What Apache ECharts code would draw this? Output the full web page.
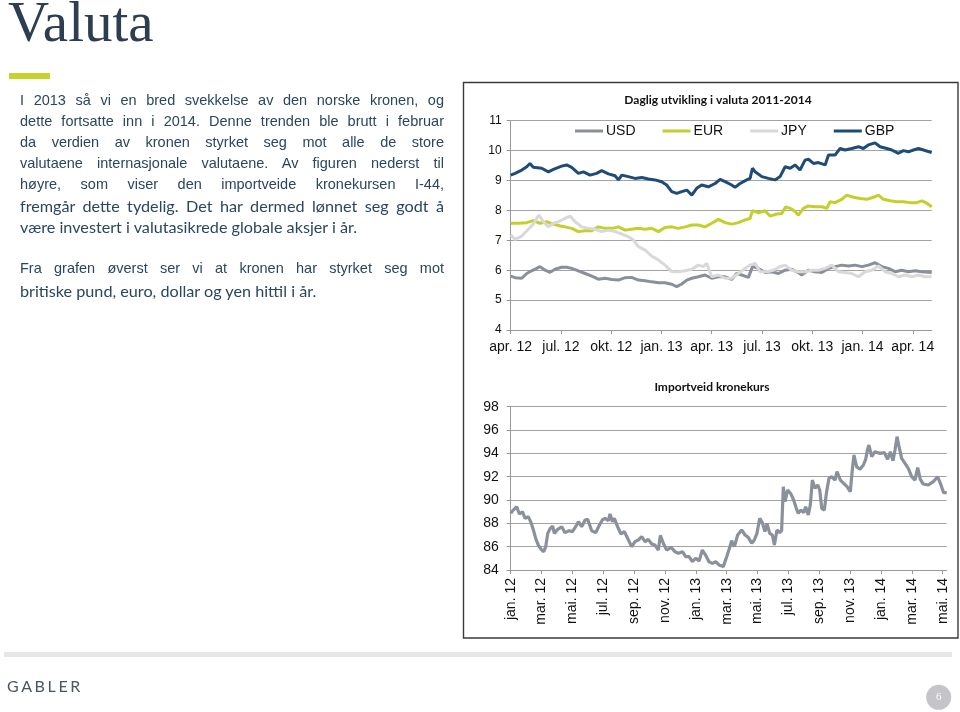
<!DOCTYPE html>
<html>
<head>
<meta charset="utf-8">
<script src="https://cdn.jsdelivr.net/npm/echarts@6/dist/echarts.min.js"></script>
<style>
  html, body { margin: 0; padding: 0; background: #fff; }
  #wrap { position: relative; width: 960px; height: 712px; overflow: hidden; }
  #c { position: absolute; left: 0; top: 0; width: 960px; height: 712px; }
  .t { position: absolute; white-space: nowrap; color: #2a4661; pointer-events: none; }
  .ln { position: absolute; left: 20px; width: 424px; height: 21px; line-height: 21px; color: #2a4661; white-space: nowrap; }
  .j { text-align: justify; text-align-last: justify; white-space: normal; }
  .a { font-family: "Liberation Sans", Arial, sans-serif; font-size: 14.5px; }
  .c { font-family: Lato, "Open Sans", sans-serif; font-size: 16.2px; }
</style>
</head>
<body>
<div id="wrap">
  <div id="c"></div>
  <div class="t" style="left:8px; top:-7px; font-family:'Liberation Serif',serif; font-size:57px; line-height:57px; color:#2c3e50;">Valuta</div>
  <div id="para"></div>
  <div class="t" style="left:7px; top:678px; font-family:Lato,sans-serif; font-size:16px; line-height:16px; letter-spacing:2.6px; color:#4b5563;">GABLER</div>
</div>
<script>
// ---------------- DATA ----------------
// Top chart: x = months since April 2012, y = NOK per unit (JPY per 100)
const topTickLabels = ['apr. 12','jul. 12','okt. 12','jan. 13','apr. 13','jul. 13','okt. 13','jan. 14','apr. 14'];
const seriesNames = ['USD','EUR','JPY','GBP'];

const usdPts = [[0,5.80],[0.26,5.75],[0.66,5.73],[0.96,5.89],[1.25,5.98],[1.55,6.06],[1.75,6.12],[2.05,6.00],[2.35,5.93],[2.65,6.03],[3.04,6.10],[3.34,6.10],[3.64,6.06],[4.04,5.98],[4.44,5.89],[4.84,5.80],[5.23,5.70],[5.63,5.73],[6.03,5.69],[6.43,5.67],[6.83,5.75],[7.22,5.76],[7.62,5.67],[8.02,5.65],[8.42,5.61],[8.82,5.58],[9.21,5.58],[9.61,5.53],[9.91,5.45],[10.21,5.54],[10.51,5.67],[10.81,5.73],[11.20,5.78],[11.60,5.84],[12.00,5.73],[12.40,5.78],[12.80,5.78],[13.19,5.69],[13.49,5.89],[13.79,5.84],[14.19,5.76],[14.43,6.12],[14.79,6.06],[15.18,5.92],[15.58,5.95],[15.98,5.89],[16.38,6.00],[16.78,6.03],[17.17,5.92],[17.37,5.84],[17.77,6.00],[18.17,5.95],[18.57,5.92],[18.97,6.06],[19.36,6.12],[19.76,6.17],[20.16,6.14],[20.56,6.17],[20.96,6.12],[21.35,6.17],[21.75,6.25],[22.15,6.12],[22.55,6.06],[22.95,5.95],[23.34,6.00],[23.74,5.95],[24.14,5.98],[24.54,5.95],[25.13,5.92]];

const eurPts = [[0,7.57],[0.46,7.57],[0.96,7.59],[1.35,7.66],[1.75,7.57],[2.15,7.62],[2.55,7.54],[2.95,7.48],[3.24,7.45],[3.64,7.40],[4.04,7.29],[4.44,7.32],[4.84,7.32],[5.23,7.45],[5.63,7.40],[6.03,7.40],[6.43,7.45],[6.83,7.34],[7.22,7.37],[7.62,7.40],[8.02,7.37],[8.42,7.40],[8.82,7.29],[9.21,7.43],[9.61,7.45],[10.01,7.40],[10.41,7.45],[10.81,7.51],[11.20,7.51],[11.60,7.45],[12.00,7.57],[12.40,7.70],[12.80,7.59],[13.19,7.54],[13.59,7.59],[13.99,7.68],[14.29,7.73],[14.43,7.99],[14.79,7.92],[15.18,7.99],[15.48,7.81],[15.88,7.88],[16.18,7.90],[16.42,8.12],[16.68,8.07],[16.98,7.96],[17.17,7.84],[17.47,8.07],[17.77,8.15],[18.17,8.12],[18.57,8.12],[18.87,8.07],[19.06,8.29],[19.36,8.26],[19.76,8.37],[20.06,8.51],[20.46,8.44],[20.86,8.40],[21.25,8.37],[21.65,8.44],[21.95,8.51],[22.25,8.37],[22.65,8.32],[23.04,8.29],[23.44,8.29],[23.84,8.26],[24.24,8.26],[24.54,8.32],[24.84,8.24],[25.13,8.12]];

const jpyPts = [[0,7.18],[0.26,7.03],[0.66,7.14],[1.05,7.37],[1.35,7.54],[1.55,7.73],[1.69,7.84],[1.95,7.62],[2.25,7.45],[2.55,7.57],[2.85,7.62],[3.24,7.73],[3.54,7.81],[3.84,7.62],[4.24,7.45],[4.64,7.40],[5.03,7.37],[5.43,7.29],[5.83,7.34],[6.23,7.29],[6.63,7.21],[7.02,7.12],[7.32,7.01],[7.62,6.79],[8.02,6.67],[8.42,6.47],[8.82,6.34],[9.21,6.17],[9.61,5.95],[10.01,5.95],[10.41,5.98],[10.81,6.03],[11.20,6.17],[11.50,6.12],[11.70,6.23],[12.00,5.78],[12.40,5.84],[12.80,5.73],[13.19,5.73],[13.59,5.89],[13.99,6.06],[14.29,6.17],[14.59,6.23],[14.89,5.95],[15.28,5.95],[15.68,6.00],[16.08,6.12],[16.38,6.17],[16.78,6.00],[17.17,5.95],[17.57,5.95],[17.97,6.00],[18.37,6.00],[18.77,6.06],[19.16,6.17],[19.56,5.95],[19.96,5.92],[20.36,5.89],[20.76,5.78],[21.15,5.95],[21.55,6.00],[21.95,6.14],[22.35,5.95],[22.75,5.89],[23.14,5.78],[23.54,5.84],[23.94,5.78],[24.34,5.84],[24.74,5.78],[25.13,5.78]];

const gbpPts = [[0,9.18],[0.26,9.24],[0.66,9.35],[0.96,9.46],[1.15,9.57],[1.35,9.44],[1.85,9.41],[2.25,9.29],[2.55,9.37],[3.04,9.48],[3.34,9.52],[3.64,9.44],[4.04,9.24],[4.34,9.29],[4.74,9.18],[5.13,9.24],[5.43,9.33],[5.83,9.22],[6.23,9.16],[6.43,9.02],[6.63,9.18],[7.02,9.13],[7.42,9.07],[7.82,9.10],[8.22,9.05],[8.62,9.02],[9.01,8.96],[9.31,8.85],[9.61,8.63],[9.91,8.57],[10.21,8.63],[10.51,8.68],[10.81,8.51],[11.10,8.74],[11.40,8.85],[11.80,8.79],[12.20,8.90],[12.50,9.04],[12.80,8.96],[13.19,8.85],[13.39,8.77],[13.69,8.90],[14.09,9.02],[14.29,9.07],[14.43,9.41],[14.59,9.29],[14.99,9.13],[15.38,9.07],[15.78,9.02],[16.08,9.13],[16.38,9.46],[16.68,9.41],[16.98,9.52],[17.27,9.35],[17.57,9.68],[17.77,9.71],[18.07,9.57],[18.37,9.60],[18.77,9.52],[18.97,9.85],[19.36,9.85],[19.66,10.07],[19.96,10.02],[20.36,10.07],[20.76,10.13],[21.05,10.07],[21.35,10.19],[21.75,10.26],[22.05,10.13],[22.45,10.07],[22.75,10.02],[23.14,9.91],[23.44,10.00],[23.74,9.96],[24.04,10.02],[24.34,10.07],[24.64,10.02],[25.13,9.93]];

// Bottom chart: x = months since January 2012, y = I-44 index
const bottomTickLabels = ['jan. 12','mar. 12','mai. 12','jul. 12','sep. 12','nov. 12','jan. 13','mar. 13','mai. 13','jul. 13','sep. 13','nov. 13','jan. 14','mar. 14','mai. 14'];
const i44Pts = [[0.00,88.86],[0.17,89.14],[0.39,89.43],[0.56,88.80],[0.76,89.00],[0.93,88.43],[1.14,88.57],[1.32,88.06],[1.47,87.43],[1.62,86.71],[1.79,86.14],[1.97,85.77],[2.14,85.57],[2.27,86.00],[2.40,87.14],[2.57,87.57],[2.72,87.77],[2.83,87.14],[3.05,87.49],[3.31,87.71],[3.52,87.20],[3.78,87.37],[4.00,87.29],[4.21,87.71],[4.39,88.14],[4.60,87.71],[4.82,88.29],[4.99,88.34],[5.25,87.37],[5.51,87.20],[5.72,87.77],[5.94,88.29],[6.11,88.43],[6.33,88.23],[6.44,88.80],[6.59,88.14],[6.72,88.43],[6.93,87.71],[7.15,87.09],[7.37,87.29],[7.63,86.57],[7.84,86.00],[8.06,86.43],[8.27,86.57],[8.49,86.86],[8.71,86.43],[8.92,86.63],[9.14,86.23],[9.35,86.14],[9.57,85.71],[9.70,86.97],[9.89,86.29],[10.11,85.71],[10.39,85.94],[10.65,85.57],[10.87,85.43],[11.13,85.57],[11.34,85.14],[11.56,85.14],[11.77,84.71],[11.99,85.00],[12.21,84.77],[12.42,85.71],[12.64,85.26],[12.85,84.71],[13.07,84.57],[13.29,84.71],[13.50,84.43],[13.78,84.29],[14.00,85.14],[14.21,86.00],[14.32,86.51],[14.50,86.00],[14.71,87.00],[14.97,87.43],[15.19,87.00],[15.40,86.80],[15.62,86.29],[15.79,86.57],[15.96,87.14],[16.14,88.43],[16.31,88.06],[16.48,87.29],[16.61,88.00],[16.79,87.14],[16.96,87.00],[17.09,86.14],[17.26,87.43],[17.43,87.20],[17.56,87.37],[17.67,91.14],[17.78,89.86],[17.95,90.86],[18.17,90.51],[18.34,90.00],[18.51,89.29],[18.64,88.86],[18.82,89.14],[18.99,88.91],[19.12,89.43],[19.29,88.71],[19.42,89.57],[19.55,91.71],[19.72,91.00],[19.90,91.29],[20.03,90.86],[20.16,89.29],[20.33,89.14],[20.46,90.57],[20.63,91.86],[20.80,92.00],[21.02,91.71],[21.15,92.43],[21.37,91.71],[21.58,91.43],[21.80,91.14],[22.01,90.71],[22.14,92.57],[22.25,93.86],[22.42,92.86],[22.64,92.63],[22.86,93.00],[23.01,93.49],[23.12,94.29],[23.22,94.71],[23.40,93.71],[23.61,94.14],[23.94,94.00],[24.22,94.06],[24.43,93.49],[24.61,94.14],[24.78,93.37],[24.91,94.29],[25.04,95.43],[25.17,94.57],[25.34,93.57],[25.56,93.14],[25.77,92.71],[25.99,92.00],[26.20,91.71],[26.38,92.77],[26.55,91.77],[26.74,91.37],[27.07,91.29],[27.39,91.57],[27.67,92.00],[27.89,91.29],[28.06,90.63],[28.26,90.63]];

// Slide text
const paraLines = [
  {text:'I 2013 så vi en bred svekkelse av den norske kronen, og', cls:'a j', y:100},
  {text:'dette fortsatte inn i 2014. Denne trenden ble brutt i februar', cls:'a j', y:121.7},
  {text:'da verdien av kronen styrket seg mot alle de store', cls:'a j', y:142.7},
  {text:'valutaene internasjonale valutaene. Av figuren nederst til', cls:'a j', y:163.3},
  {text:'høyre, som viser den importveide kronekursen I-44,', cls:'a j', y:184.3},
  {text:'fremgår dette tydelig. Det har dermed lønnet seg godt å', cls:'c j', y:205.7},
  {text:'være investert i valutasikrede globale aksjer i år.', cls:'c', y:226.7},
  {text:'Fra grafen øverst ser vi at kronen har styrket seg mot', cls:'a j', y:268.3},
  {text:'britiske pund, euro, dollar og yen hittil i år.', cls:'c', y:290}
];

// ---------------- RENDER ----------------
const para = document.getElementById('para');
paraLines.forEach(l => {
  const d = document.createElement('div');
  d.className = 'ln ' + l.cls;
  d.style.top = (l.y - 10.5) + 'px';
  d.textContent = l.text;
  para.appendChild(d);
});

const colors = {USD:'#8a8f9c', EUR:'#c4cf2b', JPY:'#d9d9d9', GBP:'#1f4b79'};
const axisFont = '"Liberation Sans", Arial, sans-serif';
const titleFont = 'Lato, "Open Sans", sans-serif';

const chart = echarts.init(document.getElementById('c'), null, {renderer:'canvas'});
const topTicks = topTickLabels.map((_, i) => i * 3);
const botTicks = bottomTickLabels.map((_, i) => i * 2);

chart.setOption({
  animation: false,
  backgroundColor: '#fff',
  title: [
    {text:'Daglig utvikling i valuta 2011-2014', left:713, top:89, textAlign:'center',
     textStyle:{fontFamily:titleFont, fontWeight:'bold', fontSize:12, color:'#111'}},
    {text:'Importveid kronekurs', left:707, top:376, textAlign:'center',
     textStyle:{fontFamily:titleFont, fontWeight:'bold', fontSize:12, color:'#111'}}
  ],
  legend: {
    data: seriesNames, left: 575, top: 124, padding: 0, itemWidth: 28, itemHeight: 3, itemGap: 27,
    icon: 'rect',
    textStyle: {fontFamily: axisFont, fontSize: 14, color: '#111', padding: [0,0,0,-2]}
  },
  grid: [
    {left: 510.7, right: 28.3, top: 120.7, bottom: 382},
    {left: 510.7, right: 13.3, top: 406.7, bottom: 142}
  ],
  xAxis: [
    {type:'value', gridIndex:0, min:0, max:25.13, interval:3,
     axisLine:{show:true, lineStyle:{color:'#999', width:1}},
     axisTick:{show:true, length:4, lineStyle:{color:'#999'}, customValues: topTicks},
     splitLine:{show:false},
     axisLabel:{customValues: topTicks, margin:10, fontFamily:axisFont, fontSize:14, color:'#111',
       formatter: v => topTickLabels[Math.round(v/3)] || ''}},
    {type:'value', gridIndex:1, min:0, max:28.26, interval:2,
     axisLine:{show:true, lineStyle:{color:'#999', width:1}},
     axisTick:{show:true, length:4, lineStyle:{color:'#999'}, customValues: botTicks},
     splitLine:{show:false},
     axisLabel:{customValues: botTicks, rotate:90, margin:8, fontFamily:axisFont, fontSize:14, color:'#111',
       formatter: v => bottomTickLabels[Math.round(v/2)] || ''}}
  ],
  yAxis: [
    {type:'value', gridIndex:0, min:4, max:11, interval:1,
     axisLine:{show:true, lineStyle:{color:'#999', width:1}},
     axisTick:{show:true, length:4, lineStyle:{color:'#999'}},
     splitLine:{show:true, lineStyle:{color:'#a3a3a3', width:1}},
     axisLabel:{margin:9, fontFamily:axisFont, fontSize:12, color:'#111'}},
    {type:'value', gridIndex:1, min:84, max:98, interval:2,
     axisLine:{show:true, lineStyle:{color:'#999', width:1}},
     axisTick:{show:true, length:4, lineStyle:{color:'#999'}},
     splitLine:{show:true, lineStyle:{color:'#a3a3a3', width:1}},
     axisLabel:{margin:12, fontFamily:axisFont, fontSize:14, color:'#111'}}
  ],
  series: [
    {name:'USD', type:'line', xAxisIndex:0, yAxisIndex:0, data:usdPts, showSymbol:false, symbol:'none',
     lineStyle:{color:colors.USD, width:3}, itemStyle:{color:colors.USD}},
    {name:'EUR', type:'line', xAxisIndex:0, yAxisIndex:0, data:eurPts, showSymbol:false, symbol:'none',
     lineStyle:{color:colors.EUR, width:3}, itemStyle:{color:colors.EUR}},
    {name:'JPY', type:'line', xAxisIndex:0, yAxisIndex:0, data:jpyPts, showSymbol:false, symbol:'none',
     lineStyle:{color:colors.JPY, width:3}, itemStyle:{color:colors.JPY}},
    {name:'GBP', type:'line', xAxisIndex:0, yAxisIndex:0, data:gbpPts, showSymbol:false, symbol:'none',
     lineStyle:{color:colors.GBP, width:3}, itemStyle:{color:colors.GBP}},
    {name:'I-44', type:'line', xAxisIndex:1, yAxisIndex:1, data:i44Pts, showSymbol:false, symbol:'none',
     lineStyle:{color:'#8b909d', width:3.2}, itemStyle:{color:'#8b909d'}}
  ],
  graphic: [
    {type:'rect', shape:{x:9, y:73, width:41, height:6}, style:{fill:'#c8d22c'}, silent:true},
    {type:'rect', shape:{x:463.5, y:82.5, width:494.5, height:555.5}, style:{fill:'none', stroke:'#3a3a3a', lineWidth:1.4}, silent:true},
    {type:'rect', shape:{x:4, y:652, width:948, height:5}, style:{fill:'#e7e7e7'}, silent:true},
    {type:'circle', shape:{cx:938.7, cy:697.3, r:12.5}, style:{fill:'#c4c4c9'}, silent:true,
     textContent:{style:{text:'6', fill:'#fff', fontSize:11, fontFamily:'"Liberation Serif", serif'}},
     textConfig:{position:'inside'}}
  ]
});
</script>
</body>
</html>
